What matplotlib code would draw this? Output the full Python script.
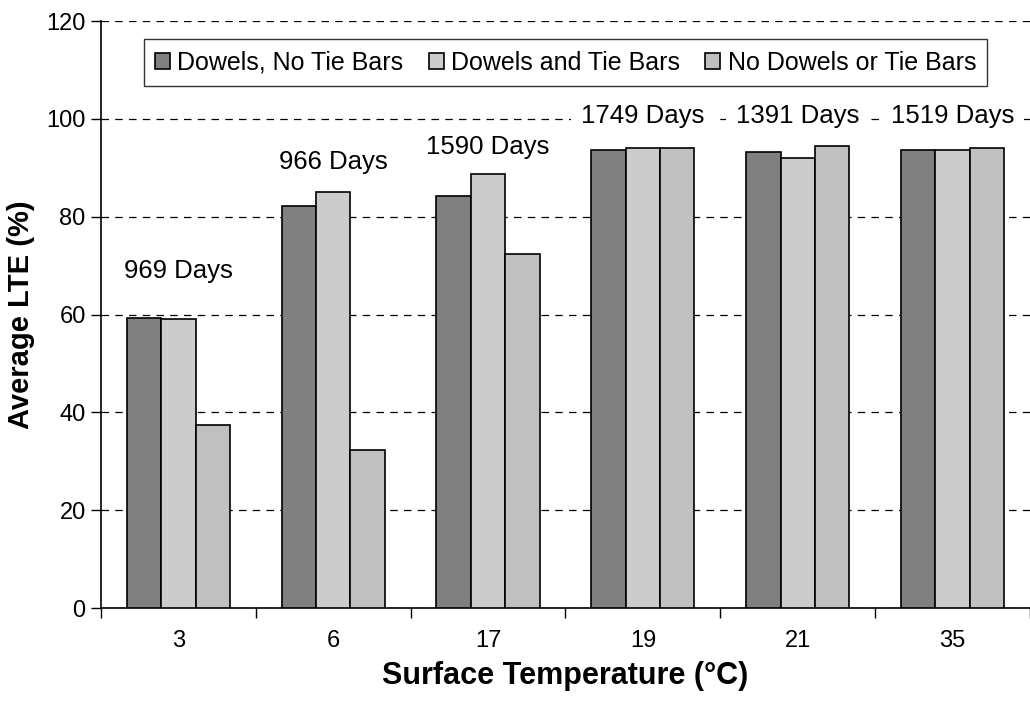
import matplotlib
matplotlib.use("Agg")
import matplotlib.pyplot as plt
import numpy as np

plt.rcParams['font.family'] = ['Liberation Sans', 'DejaVu Sans']

# Surface temperature categories and average LTE per joint type
temps = ['3', '6', '17', '19', '21', '35']
dowels_no_tie = [59.4, 82.2, 84.3, 93.7, 93.2, 93.7]
dowels_and_tie = [59.0, 85.1, 88.8, 94.0, 92.1, 93.7]
no_dowels_no_tie = [37.4, 32.4, 72.4, 94.0, 94.4, 94.0]
series_names = ['Dowels, No Tie Bars', 'Dowels and Tie Bars', 'No Dowels or Tie Bars']

day_labels = ['969 Days', '966 Days', '1590 Days', '1749 Days', '1391 Days', '1519 Days']
day_label_y = [69.0, 91.2, 94.3, 100.6, 100.6, 100.6]

colors = ['#808080', '#cccccc', '#c0c0c0']

fig = plt.figure(figsize=(10.3, 7.03), dpi=100)
ax = fig.add_axes([0.098, 0.135, 0.902, 0.835])

x = np.arange(len(temps))
w = 0.222
all_series = [dowels_no_tie, dowels_and_tie, no_dowels_no_tie]
for i, vals in enumerate(all_series):
    ax.bar(x + (i - 1) * w, vals, width=w, color=colors[i], edgecolor='black',
           linewidth=1.2, label=series_names[i], zorder=3)

# day count labels sit on a white patch that hides the grid line
for i, lab in enumerate(day_labels):
    ax.text(x[i], day_label_y[i], lab, ha='center', va='center', fontsize=18.5,
            zorder=4, bbox=dict(facecolor='white', edgecolor='none', pad=7))

ax.set_xlim(-0.5, len(temps) - 0.5)
ax.set_ylim(0, 120)
ax.set_yticks(np.arange(0, 121, 20))
ax.yaxis.grid(True, linestyle=(0, (6, 5)), color='black', linewidth=0.9, zorder=0)

ax.set_xticks(x)
ax.set_xticklabels(temps)
ax.set_xticks(np.arange(-0.5, len(temps), 1), minor=True)
ax.tick_params(axis='x', which='major', length=0, pad=16, labelsize=17)
ax.tick_params(axis='x', which='minor', length=7, width=1)
ax.tick_params(axis='y', length=7, width=1, labelsize=17, pad=4)

for s in ['top', 'right']:
    ax.spines[s].set_visible(False)
for s in ['left', 'bottom']:
    ax.spines[s].set_linewidth(1.2)

ax.set_xlabel('Surface Temperature (°C)', fontsize=22, fontweight='bold', labelpad=6)
ax.set_ylabel('Average LTE (%)', fontsize=21, fontweight='bold', labelpad=8)

leg = ax.legend(loc='upper center', bbox_to_anchor=(0.5, 0.969), ncol=3, fontsize=18,
                frameon=True, fancybox=False, edgecolor='#333333', framealpha=1,
                handlelength=0.6, handleheight=0.6, handletextpad=0.3,
                columnspacing=1.0, borderpad=0.45, borderaxespad=0)
leg.get_frame().set_linewidth(1.0)
leg.set_zorder(5)

fig.savefig('out.png', dpi=100)
